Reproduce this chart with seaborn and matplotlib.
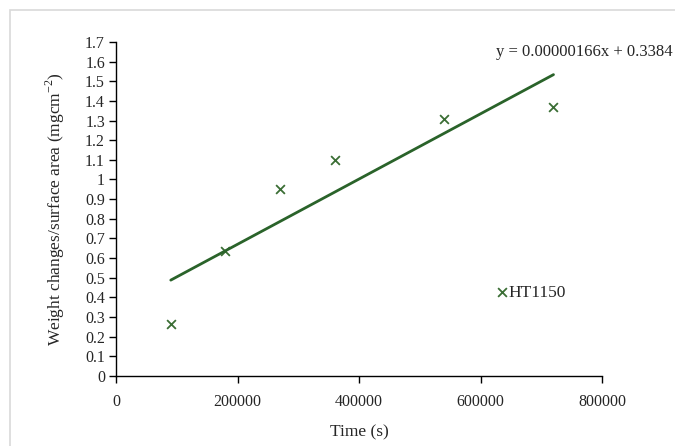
import numpy as np
import pandas as pd
import matplotlib
matplotlib.use('Agg')
import matplotlib.pyplot as plt
import seaborn as sns
from matplotlib.patches import Rectangle
from matplotlib.ticker import FuncFormatter, MultipleLocator

# Data
time_s = [90000, 180000, 270000, 360000, 540000, 720000]
weight_change = [0.265, 0.635, 0.95, 1.10, 1.31, 1.37]
slope = 0.00000166
intercept = 0.3384
x_ticks = [0, 200000, 400000, 600000, 800000]

df = pd.DataFrame({'Time': time_s, 'Weight': weight_change})
fit_x = [time_s[0], time_s[-1]]
fit_df = pd.DataFrame({'Time': fit_x, 'Fit': [slope * x + intercept for x in fit_x]})

sns.set_style('white')
plt.rcParams['font.family'] = ['Liberation Serif', 'DejaVu Serif']

fig = plt.figure(figsize=(6.75, 4.46), dpi=100)
ax = fig.add_axes([0.172, 0.157, 0.72, 0.749])

# light chart border
fig.patches.append(Rectangle((10 / 675, -0.05), 1.0, 1 - 10 / 446 + 0.05,
                             transform=fig.transFigure, fill=False,
                             edgecolor='#d9d9d9', linewidth=1.2))

sns.lineplot(x='Time', y='Fit', data=fit_df, color='#2a632a', linewidth=2, ax=ax)
sns.scatterplot(x='Time', y='Weight', data=df, marker='x', color='#3b6e35',
                s=40, linewidth=1.3, ax=ax, label='HT1150')

ax.set_xlim(0, 800000)
ax.set_ylim(0, 1.7)
ax.set_xticks(x_ticks)
ax.yaxis.set_major_locator(MultipleLocator(0.1))
ax.yaxis.set_major_formatter(FuncFormatter(lambda v, p: f"{round(v, 1):g}"))
ax.xaxis.set_major_formatter(FuncFormatter(lambda v, p: f"{int(v)}"))

for side in ['top', 'right']:
    ax.spines[side].set_visible(False)
for side in ['left', 'bottom']:
    ax.spines[side].set_color('black')
    ax.spines[side].set_linewidth(1)

ax.tick_params(axis='both', which='major', direction='out', length=5, width=1,
               color='black', labelsize=11.5, left=True, bottom=True)
ax.tick_params(axis='x', pad=8)
ax.tick_params(axis='y', pad=3)

ax.set_xlabel('Time (s)', fontsize=12.5, labelpad=10)
ax.set_ylabel('Weight changes/surface area (mgcm$^{\\mathregular{-2}}$)', fontsize=12.5, labelpad=13)

ax.legend(loc='center left', bbox_to_anchor=(0.74, 0.25), frameon=False,
          fontsize=12.5, handletextpad=-0.2, handlelength=1.2, markerscale=1.0)

fig.text(0.735, 0.883, 'y = 0.00000166x + 0.3384', fontsize=12, ha='left', va='center')

fig.savefig('out.png', dpi=100)
